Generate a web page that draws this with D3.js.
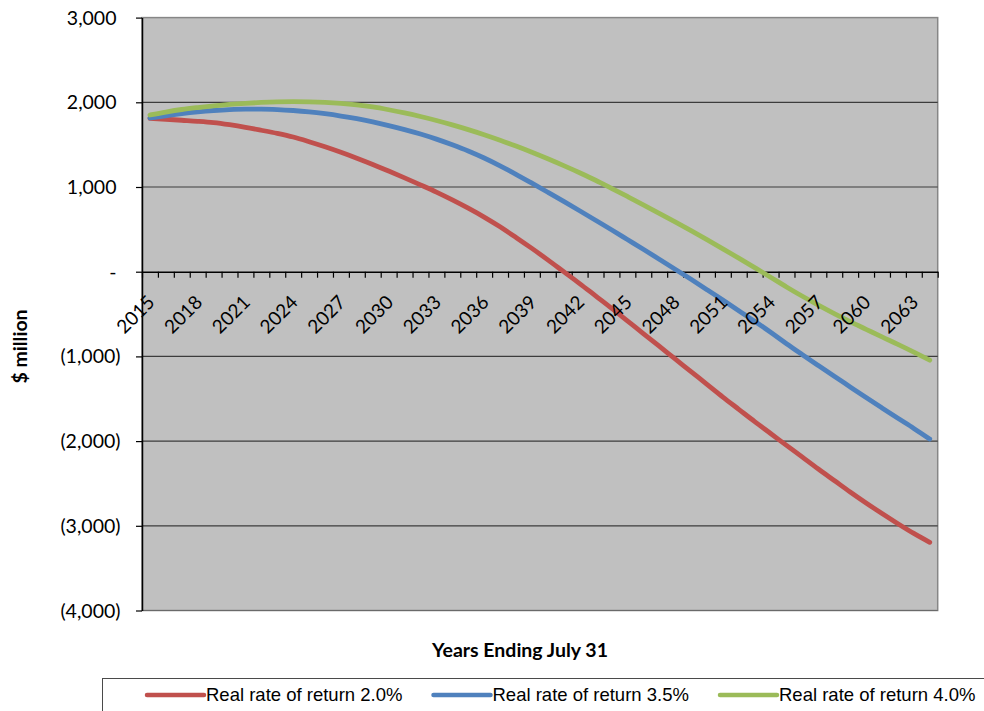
<!DOCTYPE html>
<html>
<head>
<meta charset="utf-8">
<script src="https://cdn.jsdelivr.net/npm/d3@7"></script>
<style>
  html, body { margin: 0; padding: 0; background: #ffffff; }
  svg { display: block; }
</style>
</head>
<body>
<svg id="chart" width="984" height="711"></svg>
<script>
// Projected fund balance, $ million, years ending July 31
const years = d3.range(2015, 2065);
const tickYears = d3.range(2015, 2064, 3);
const yTicks = [3000, 2000, 1000, 0, -1000, -2000, -3000, -4000];

const seriesNames = [
  "Real rate of return 2.0%",
  "Real rate of return 3.5%",
  "Real rate of return 4.0%"
];
const seriesColors = ["#C0504D", "#4F81BD", "#9BBB59"];

const rate20 = [
  1810, 1800, 1788, 1776, 1760, 1735, 1705, 1670, 1633, 1590,
  1535, 1475, 1410, 1340, 1266, 1188, 1108, 1025, 940, 848,
  750, 645, 530, 405, 275, 140, 0, -140, -285, -430,
  -580, -730, -880, -1030, -1180, -1330, -1480, -1625, -1770, -1910,
  -2050, -2190, -2330, -2465, -2600, -2730, -2855, -2975, -3090, -3195
];
const rate35 = [
  1815, 1840, 1866, 1887, 1903, 1914, 1919, 1919, 1914, 1903,
  1887, 1865, 1838, 1806, 1768, 1725, 1678, 1625, 1565, 1498,
  1425, 1342, 1250, 1150, 1045, 938, 830, 720, 608, 495,
  380, 265, 148, 30, -90, -212, -335, -460, -585, -715,
  -850, -980, -1108, -1235, -1360, -1485, -1608, -1730, -1850, -1975
];
const rate40 = [
  1850, 1885, 1915, 1938, 1958, 1975, 1988, 1998, 2005, 2008,
  2006, 2000, 1988, 1970, 1945, 1912, 1875, 1832, 1785, 1733,
  1677, 1617, 1552, 1483, 1410, 1333, 1252, 1168, 1080, 985,
  888, 790, 690, 588, 484, 378, 270, 160, 48, -65,
  -180, -290, -395, -495, -590, -680, -770, -858, -950, -1045
];
const seriesValues = [rate20, rate35, rate40];

// ---- layout ----
const plot = { left: 142, right: 937.7, top: 17.6, bottom: 610.5 };
const axisFont = "Lato, 'Open Sans', sans-serif";

const svg = d3.select("#chart");

const x = d3.scaleBand().domain(years).range([plot.left, plot.right]).padding(0);
const xEdge = d3.scaleLinear().domain([0, years.length]).range([plot.left, plot.right]);
const y = d3.scaleLinear().domain([-4000, 3000]).range([plot.bottom, plot.top]);
const cx = yr => x(yr) + x.bandwidth() / 2;

// plot background
svg.append("rect")
  .attr("x", plot.left).attr("y", plot.top)
  .attr("width", plot.right - plot.left).attr("height", plot.bottom - plot.top)
  .attr("fill", "#C0C0C0")
  .attr("stroke", "#868686").attr("stroke-width", 1.5);

// horizontal gridlines
svg.append("g")
  .selectAll("line")
  .data(yTicks.filter(v => v !== 3000 && v !== 0))
  .join("line")
  .attr("x1", plot.left).attr("x2", plot.right)
  .attr("y1", d => y(d)).attr("y2", d => y(d))
  .attr("stroke", d => d === -4000 ? "#6a6a6a" : "#3c3c3c")
  .attr("stroke-width", 1.2);

// y axis
const yAxis = svg.append("g")
  .attr("transform", `translate(${plot.left},0)`)
  .call(d3.axisLeft(y).tickValues(yTicks).tickSize(6).tickSizeOuter(0).tickFormat(""));
yAxis.select(".domain").attr("stroke", "#000").attr("stroke-width", 1.5);
yAxis.selectAll(".tick line").attr("stroke", "#000").attr("stroke-width", 1.2);

const fmt = d3.format(",");
svg.append("g")
  .selectAll("text")
  .data(yTicks)
  .join("text")
  .attr("x", d => d < 0 ? 120.5 : 116.5)
  .attr("y", d => y(d))
  .attr("dy", "0.36em")
  .attr("text-anchor", "end")
  .attr("font-family", axisFont)
  .attr("font-size", 19.5)
  .attr("fill", "#000")
  .text(d => d === 0 ? "-" : d < 0 ? `(${fmt(-d)})` : fmt(d));

// x axis along zero, ticks between categories
const xAxis = svg.append("g")
  .attr("transform", `translate(0,${y(0)})`)
  .call(d3.axisBottom(xEdge).tickValues(d3.range(years.length + 1)).tickSize(6).tickSizeOuter(0).tickFormat(""));
xAxis.select(".domain").attr("stroke", "#000").attr("stroke-width", 1.5);
xAxis.selectAll(".tick line").attr("stroke", "#000").attr("stroke-width", 1.2);

// series lines
const line = d3.line()
  .x((d, i) => cx(years[i]))
  .y(d => y(d))
  .curve(d3.curveMonotoneX);

svg.append("g")
  .selectAll("path")
  .data(seriesValues)
  .join("path")
  .attr("d", d => line(d))
  .attr("fill", "none")
  .attr("stroke", (d, i) => seriesColors[i])
  .attr("stroke-width", 4.8)
  .attr("stroke-linecap", "round")
  .attr("stroke-linejoin", "round");

// x tick labels, rotated
svg.append("g")
  .selectAll("text")
  .data(tickYears)
  .join("text")
  .attr("transform", d => `translate(${cx(d) + 1},${y(0) + 27}) rotate(-45)`)
  .attr("dy", "0.36em")
  .attr("text-anchor", "end")
  .attr("font-family", axisFont)
  .attr("font-size", 19)
  .attr("fill", "#000")
  .text(d => d);

// axis titles
svg.append("text")
  .attr("transform", `translate(27,346.5) rotate(-90)`)
  .attr("text-anchor", "middle")
  .attr("font-family", axisFont)
  .attr("font-weight", "bold")
  .attr("font-size", 19.5)
  .text("$ million");

svg.append("text")
  .attr("x", 520).attr("y", 657)
  .attr("text-anchor", "middle")
  .attr("font-family", axisFont)
  .attr("font-weight", "bold")
  .attr("font-size", 19.5)
  .text("Years Ending July 31");

// legend
svg.append("rect")
  .attr("x", 102.5).attr("y", 678.5)
  .attr("width", 900).attr("height", 60)
  .attr("fill", "#fff")
  .attr("stroke", "#4a4a4a").attr("stroke-width", 1);

const legend = svg.append("g")
  .selectAll("g")
  .data(seriesNames)
  .join("g")
  .attr("transform", (d, i) => `translate(${147 + i * 286.5},695)`);
legend.append("line")
  .attr("x1", 0).attr("x2", 57)
  .attr("stroke", (d, i) => seriesColors[i])
  .attr("stroke-width", 4.5)
  .attr("stroke-linecap", "round");
legend.append("text")
  .attr("x", 59)
  .attr("dy", "0.35em")
  .attr("font-family", "'Liberation Sans', Arial, sans-serif")
  .attr("font-size", 18.5)
  .attr("fill", "#000")
  .text(d => d);
</script>
</body>
</html>
